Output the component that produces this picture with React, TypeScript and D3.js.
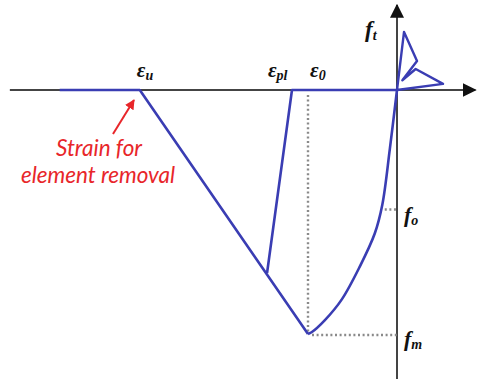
import React from "react";
import * as d3 from "d3";

// Data in normalized units: strain / eps0, stress / fm (compression negative)
const strainLabels = ["u", "pl", "0"];
const epsU = -2.89;
const epsPl = -1.18;
const eps0 = -1;
const fo = -0.49;
const fm = -1;
const plateauStart = -3.79;
const unloadPoint: [number, number] = [-1.46, -0.75];

// compressive envelope (strain, stress)
const compCurve: [number, number][] = [
  [-1, -1],
  [-0.96, -0.993],
  [-0.81, -0.943],
  [-0.62, -0.858],
  [-0.42, -0.725],
  [-0.25, -0.588],
  [-0.165, -0.47],
  [-0.08, -0.24],
  [0, 0],
];

// tension part (strain, stress)
const tensionPath: [number, number][] = [
  [0, 0],
  [0.079, 0.238],
  [0.225, 0.119],
  [0.06, 0.04],
  [0.21, 0.086],
  [0.517, 0.025],
  [0, 0],
];

const xDomain = [-4.35, 0.88];
const yDomain = [-1.184, 0.348];

export default function App() {
  const x = d3.scaleLinear().domain([-1, 0]).range([308, 397]);
  const y = d3.scaleLinear().domain([-1, 0]).range([334, 90]);
  const blue = "#3a3db3";
  const axisCol = "#444";
  const red = "#e8262a";

  const curveGen = d3
    .line<[number, number]>()
    .x((d) => x(d[0]))
    .y((d) => y(d[1]))
    .curve(d3.curveCatmullRom.alpha(0.5));
  const poly = d3
    .line<[number, number]>()
    .x((d) => x(d[0]))
    .y((d) => y(d[1]));

  const envelope: [number, number][] = [
    [plateauStart, 0],
    [epsU, 0],
    [eps0, fm],
  ];
  const unload: [number, number][] = [unloadPoint, [epsPl, 0], [0, 0]];

  const x0 = x(xDomain[0]);
  const x1 = x(xDomain[1]);
  const yTop = y(yDomain[1]);
  const yBot = y(yDomain[0]);

  const serif = "'Liberation Serif', 'Times New Roman', serif";
  const labelStyle = { fontFamily: serif, fontWeight: 700, fontStyle: "italic" as const };

  const epsLabels = [
    { v: epsU, sub: strainLabels[0], dx: -3 },
    { v: epsPl, sub: strainLabels[1], dx: -24 },
    { v: eps0, sub: strainLabels[2], dx: 2 },
  ];

  const dotStyle = { stroke: "#8a8a8a", strokeWidth: 2.4, strokeDasharray: "2,2.6" };

  return (
    <svg
      width={477}
      height={379}
      style={{ position: "absolute", left: 0, top: 0, background: "#fff" }}
    >
      <defs>
        <marker id="ah" viewBox="0 0 10 10" refX="9" refY="5" markerWidth="7" markerHeight="7" orient="auto">
          <path d="M0,0 L10,5 L0,10 z" fill="#111" />
        </marker>
        <marker id="rh" viewBox="0 0 10 10" refX="9" refY="5" markerWidth="5" markerHeight="5" orient="auto">
          <path d="M0,0 L10,5 L0,10 z" fill={red} />
        </marker>
      </defs>
      {/* axes */}
      <line x1={x0} y1={y(0)} x2={x1} y2={y(0)} stroke={axisCol} strokeWidth={2} markerEnd="url(#ah)" />
      <line x1={x(0)} y1={yBot} x2={x(0)} y2={yTop} stroke={axisCol} strokeWidth={2} markerEnd="url(#ah)" />

      {/* dotted guides */}
      <line x1={x(eps0)} y1={y(0) + 5} x2={x(eps0)} y2={y(fm)} {...dotStyle} />
      <line x1={x(eps0) + 4} y1={y(fm) + 1} x2={x(0)} y2={y(fm) + 1} {...dotStyle} />
      <line x1={x(-0.16) + 2} y1={y(fo)} x2={x(0)} y2={y(fo)} {...dotStyle} />

      {/* blue material law */}
      <path d={poly(envelope) || ""} fill="none" stroke={blue} strokeWidth={2.6} strokeLinejoin="round" />
      <path d={poly(unload) || ""} fill="none" stroke={blue} strokeWidth={2.6} strokeLinejoin="round" />
      <path d={curveGen(compCurve) || ""} fill="none" stroke={blue} strokeWidth={2.6} />
      <path d={poly(tensionPath) || ""} fill="none" stroke={blue} strokeWidth={2.4} strokeLinejoin="round" />

      {/* strain labels */}
      {epsLabels.map((l, i) => (
        <text key={i} x={x(l.v) + l.dx} y={77} fontSize={21} {...labelStyle} fill="#111">
          ε
          <tspan fontSize={14} dy={3}>{l.sub}</tspan>
        </text>
      ))}

      {/* stress labels */}
      <text x={365} y={37} fontSize={23} {...labelStyle} fill="#111">
        f<tspan fontSize={14} dy={3}>t</tspan>
      </text>
      <text x={404} y={222} fontSize={22} {...labelStyle} fill="#111">
        f<tspan fontSize={14} dy={3}>o</tspan>
      </text>
      <text x={404} y={346} fontSize={22} {...labelStyle} fill="#111">
        f<tspan fontSize={14} dy={3}>m</tspan>
      </text>

      {/* annotation */}
      <line x1={113} y1={134} x2={134} y2={100} stroke={red} strokeWidth={2} markerEnd="url(#rh)" />
      <text x={99} y={156} textAnchor="middle" fontSize={22.5} fontStyle="italic" fontFamily="Lato, 'Open Sans', sans-serif" fill={red}>
        Strain for
      </text>
      <text x={98} y={183} textAnchor="middle" fontSize={22.5} fontStyle="italic" fontFamily="Lato, 'Open Sans', sans-serif" fill={red}>
        element removal
      </text>
    </svg>
  );
}
